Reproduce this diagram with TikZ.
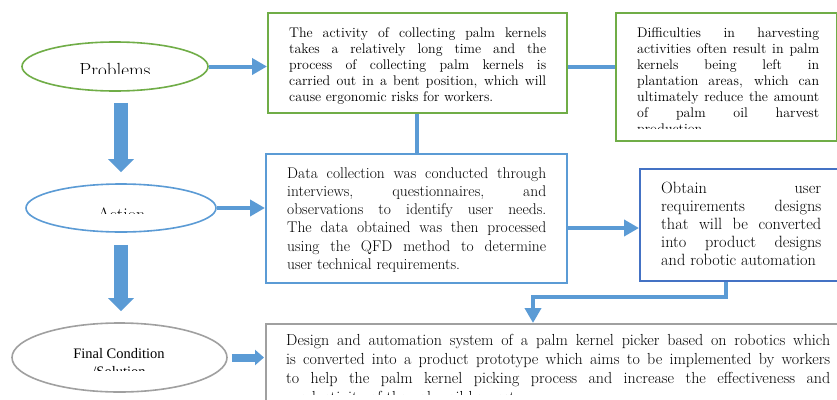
\documentclass[tikz,border=0pt]{standalone}
\usepackage{fontspec}
\newfontfamily\timesf{Liberation Serif}
\usetikzlibrary{arrows.meta,shapes.geometric,calc}
\definecolor{cgreen}{HTML}{70AD47}
\definecolor{cblue}{HTML}{5B9BD5}
\definecolor{cdblue}{HTML}{4472C4}
\definecolor{cgrey}{HTML}{A0A0A0}
\tolerance=10000 \hyphenpenalty=10000 \hbadness=10000
\begin{document}
\begin{tikzpicture}[x=1pt,y=-1pt,
  ell/.style={ellipse,inner sep=0pt,line width=1.6pt},
  box/.style={rectangle,inner sep=0pt,line width=1.6pt,anchor=north west},
  txt/.style={inner sep=0pt,anchor=base west,align=justify,text=black},
  lbl/.style={inner sep=0pt,anchor=base,text=black},
  conn/.style={draw=cblue,line width=4pt},
  arr/.style={conn,-{Triangle[length=15pt,width=16pt]}},
  fat/.style={draw=cblue,line width=14pt,-{Triangle[length=13pt,width=25pt]}},
  smallfat/.style={draw=cblue,line width=8pt,-{Triangle[length=9pt,width=15pt]}},
]
\clip (0,0) rectangle (837,399);
\fill[white] (0,0) rectangle (837,399);

% ellipses
\node[ell,draw=cgreen,minimum width=186pt,minimum height=49pt] (prob) at (115,66.5) {};
\node[ell,draw=cblue,minimum width=190pt,minimum height=48pt] (act) at (121,208) {};
\node[ell,draw=cgrey,minimum width=215pt,minimum height=69pt] (fin) at (119.5,357.5) {};

% boxes
\node[box,draw=cgreen,minimum width=299pt,minimum height=100pt] (b1) at (267,12) {};
\node[box,draw=cgreen,minimum width=220.5pt,minimum height=128pt] (b2) at (615,12) {};
\node[box,draw=cblue,minimum width=301pt,minimum height=129pt] (data) at (265,153) {};
\node[box,draw=cdblue,line width=2pt,minimum width=210pt,minimum height=112pt] (obt) at (639,168) {};
\node[box,draw=cgrey,minimum width=600pt,minimum height=100pt] (finbox) at (265,323) {};

% ellipse labels (clipped as in the reference)
\begin{scope}
\clip (20,40) rectangle (210,73.5);
\node[lbl,font=\fontsize{19}{21}\selectfont] (probt) at (115,76.5) {Problems};
\end{scope}
\begin{scope}
\clip (30,185) rectangle (212,213.5);
\node[lbl,font=\fontsize{18}{20}\selectfont] (actt) at (121.5,220.3) {Action};
\end{scope}
\begin{scope}
\clip (15,330) rectangle (225,370);
\node[lbl,font=\timesf\fontsize{14.5}{17}\selectfont] (fint1) at (119,358.3) {Final Condition};
\node[lbl,font=\timesf\fontsize{14.5}{17}\selectfont] (fint2) at (119,376) {/Solution};
\end{scope}

% box texts
\node[txt,text width=257pt,font=\fontsize{14}{16}\selectfont] (b1t) at (289,37)
 {The activity of collecting palm kernels\linebreak takes a relatively long time and the\linebreak process of collecting palm kernels is\linebreak carried out in a bent position, which will\linebreak cause ergonomic risks for workers.};
\begin{scope}
\clip (620,15) rectangle (834,128.5);
\node[txt,text width=182pt,font=\fontsize{14}{16}\selectfont] (b2t) at (637,37)
 {Difficulties in harvesting\linebreak activities often result in palm\linebreak kernels being left in\linebreak plantation areas, which can\linebreak ultimately reduce the amount\linebreak of palm oil harvest\linebreak production};
\end{scope}
\node[txt,text width=259pt,font=\fontsize{15.5}{18.3}\selectfont] (datat) at (287,178)
 {Data collection was conducted through\linebreak interviews, questionnaires, and\linebreak observations to identify user needs.\linebreak The data obtained was then processed\linebreak using the QFD method to determine\linebreak user technical requirements.};
\node[txt,text width=160pt,font=\fontsize{16.3}{18}\selectfont] (obtt) at (661,193)
 {Obtain user\linebreak requirements designs\linebreak that will be converted\linebreak into product designs\linebreak and robotic automation};
\begin{scope}
\clip (270,330) rectangle (836,394.5);
\node[txt,text width=544pt,font=\fontsize{16}{19}\selectfont] (fintx) at (286,345)
 {Design and automation system of a palm kernel picker based on robotics which\linebreak is converted into a product prototype which aims to be implemented by workers\linebreak to help the palm kernel picking process and increase the effectiveness and\linebreak productivity of the palm oil harvest};
\end{scope}

% connectors
\draw[arr] (prob.east) -- (prob.east -| b1.west);
\draw[conn] (b1.east |- prob.east) -- (b2.west |- prob.east);
\draw[conn] (b1.south) -- (b1.south |- data.north);
\draw[arr] (act.east) -- (act.east -| data.west);
\draw[arr] ($(data.east |- obt.west)+(0,3)$) -- ($(obt.west)+(0,3)$);
\coordinate (k1) at (726,297);
\coordinate (k2) at (533,297);
\draw[arr] (obt.south -| k1) -- (k1) -- (k2) -- (k2 |- finbox.north);
\draw[fat,shorten <=11pt,shorten >=11pt] (prob.south -| act.north) -- (act.north);
\draw[fat,shorten <=12pt,shorten >=11pt] (act.south) -- (act.south |- fin.north);
\draw[smallfat,shorten <=4pt,shorten >=1pt] (fin.east) -- (fin.east -| finbox.west);
\end{tikzpicture}
\end{document}
